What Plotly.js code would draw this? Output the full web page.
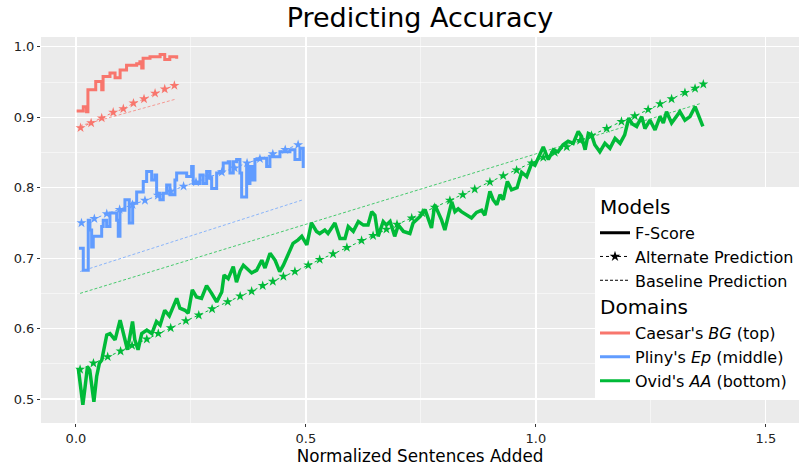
<!DOCTYPE html>
<html>
<head>
<meta charset="utf-8">
<script src="https://cdn.plot.ly/plotly-3.0.1.min.js"></script>
<style>html,body{margin:0;padding:0;background:#fff;}#chart{width:799px;height:470px;}</style>
</head>
<body>
<div id="chart"></div>
<script>
// ---- Caesar's BG (top) ----
const caesarFX = [0.0015,0.016,0.023,0.026,0.043,0.056,0.059,0.074,0.085,0.096,0.110,0.132,0.139,0.143,0.146,0.161,0.183,0.193,0.204,0.219];
const caesarFY = [0.909,0.915,0.908,0.939,0.951,0.939,0.958,0.963,0.956,0.967,0.974,0.976,0.979,0.970,0.984,0.986,0.989,0.982,0.986,0.983];
const caesarAX = [0.010,0.033,0.056,0.081,0.103,0.125,0.148,0.172,0.193,0.214];
const caesarAY = [0.885,0.892,0.899,0.907,0.912,0.920,0.926,0.934,0.940,0.945];
const caesarBX = [0.009,0.218];
const caesarBY = [0.888,0.926];

// ---- Pliny's Ep (middle) ----
const plinyFX = [0.0065,0.0159,0.0267,0.0304,0.0341,0.0376,0.0559,0.0593,0.0667,0.0739,0.0885,0.092,0.0957,0.1065,0.1159,0.1233,0.132,0.1463,0.1537,0.1646,0.1717,0.1754,0.1826,0.1898,0.1972,0.2043,0.2152,0.2189,0.2407,0.2515,0.255,0.2696,0.2767,0.2841,0.2913,0.295,0.3059,0.313,0.3202,0.3311,0.3348,0.342,0.3493,0.3565,0.3602,0.3711,0.3746,0.3783,0.3841,0.3891,0.4,0.4146,0.4217,0.4435,0.4652,0.4761,0.487,0.4941];
const plinyFY = [0.714,0.683,0.754,0.740,0.716,0.731,0.745,0.754,0.745,0.764,0.754,0.731,0.768,0.783,0.750,0.778,0.794,0.809,0.823,0.811,0.818,0.792,0.783,0.792,0.804,0.790,0.811,0.821,0.816,0.830,0.806,0.818,0.806,0.823,0.814,0.799,0.821,0.823,0.835,0.837,0.821,0.837,0.840,0.821,0.787,0.830,0.806,0.830,0.811,0.840,0.842,0.830,0.844,0.851,0.854,0.840,0.856,0.828];
const plinyAX = [0.012,0.040,0.067,0.095,0.123,0.150,0.178,0.206,0.234,0.261,0.289,0.317,0.345,0.372,0.400,0.428,0.455,0.483];
const plinyAY = [0.750,0.756,0.763,0.769,0.776,0.782,0.789,0.795,0.802,0.808,0.815,0.822,0.828,0.835,0.841,0.848,0.854,0.861];
const plinyBX = [0.009,0.494];
const plinyBY = [0.681,0.783];

// ---- Ovid's AA (bottom) ----
const ovidFX = [0.005,0.010,0.015,0.020,0.025,0.030,0.039,0.045,0.051,0.056,0.067,0.074,0.085,0.096,0.104,0.112,0.123,0.128,0.135,0.143,0.154,0.165,0.175,0.183,0.193,0.203,0.219,0.226,0.237,0.244,0.253,0.262,0.273,0.284,0.295,0.306,0.317,0.322,0.331,0.342,0.349,0.357,0.364,0.382,0.393,0.404,0.411,0.422,0.433,0.443,0.451,0.462,0.472,0.483,0.491,0.502,0.512,0.523,0.530,0.541,0.548,0.563,0.574,0.585,0.592,0.603,0.614,0.625,0.635,0.643,0.650,0.657,0.668,0.675,0.683,0.693,0.701,0.712,0.726,0.733,0.748,0.759,0.766,0.773,0.780,0.795,0.802,0.817,0.824,0.831,0.838,0.849,0.860,0.871,0.882,0.889,0.900,0.907,0.915,0.922,0.929,0.938,0.947,0.959,0.969,0.980,0.991,0.998,1.005,1.016,1.027,1.038,1.048,1.059,1.070,1.081,1.092,1.099,1.107,1.114,1.121,1.128,1.139,1.150,1.161,1.172,1.183,1.193,1.202,1.209,1.219,1.230,1.237,1.248,1.259,1.270,1.277,1.284,1.295,1.306,1.313,1.324,1.335,1.346,1.357,1.363];
const ovidFY = [0.544,0.513,0.492,0.518,0.546,0.541,0.496,0.532,0.551,0.555,0.591,0.593,0.584,0.612,0.589,0.570,0.610,0.584,0.570,0.593,0.598,0.593,0.610,0.605,0.626,0.618,0.643,0.629,0.626,0.622,0.655,0.645,0.643,0.661,0.650,0.638,0.652,0.676,0.671,0.688,0.666,0.682,0.690,0.679,0.683,0.697,0.686,0.707,0.697,0.681,0.690,0.707,0.721,0.726,0.731,0.719,0.750,0.738,0.735,0.740,0.735,0.750,0.728,0.728,0.745,0.738,0.752,0.747,0.747,0.766,0.761,0.731,0.752,0.747,0.752,0.731,0.747,0.738,0.735,0.750,0.759,0.769,0.754,0.743,0.776,0.754,0.740,0.780,0.766,0.770,0.766,0.761,0.757,0.765,0.768,0.761,0.795,0.783,0.776,0.790,0.783,0.809,0.797,0.800,0.822,0.816,0.835,0.832,0.842,0.858,0.840,0.854,0.851,0.861,0.866,0.863,0.880,0.873,0.854,0.877,0.875,0.861,0.851,0.863,0.856,0.870,0.863,0.875,0.899,0.891,0.887,0.901,0.884,0.896,0.882,0.901,0.892,0.908,0.892,0.901,0.908,0.896,0.901,0.915,0.896,0.887];
const ovidAX = [0.009,0.038,0.069,0.097,0.122,0.154,0.179,0.206,0.239,0.267,0.296,0.330,0.357,0.382,0.406,0.428,0.451,0.476,0.505,0.530,0.559,0.589,0.621,0.646,0.675,0.698,0.730,0.753,0.780,0.813,0.841,0.867,0.900,0.929,0.958,0.991,1.016,1.041,1.067,1.096,1.121,1.154,1.186,1.215,1.244,1.270,1.295,1.324,1.346,1.364];
const ovidAY = [0.542,0.551,0.560,0.568,0.576,0.585,0.593,0.601,0.611,0.619,0.628,0.638,0.646,0.653,0.661,0.667,0.674,0.681,0.690,0.698,0.706,0.715,0.725,0.732,0.741,0.748,0.757,0.764,0.772,0.782,0.790,0.798,0.808,0.817,0.825,0.835,0.843,0.850,0.858,0.867,0.874,0.884,0.894,0.902,0.911,0.919,0.926,0.935,0.941,0.947];
const ovidBX = [0.009,1.360];
const ovidBY = [0.650,0.920];

// ---- labels ----
const domainNames = ["Caesar's <i>BG</i> (top)", "Pliny's <i>Ep</i> (middle)", "Ovid's <i>AA</i> (bottom)"];
const domainColors = ['#F8766D', '#619CFF', '#00BA38'];
const modelNames = ['F-Score', 'Alternate Prediction', 'Baseline Prediction'];
const xTickVals = [0, 0.5, 1.0, 1.5];
const xTickText = ['0.0', '0.5', '1.0', '1.5'];
const yTickVals = [0.5, 0.6, 0.7, 0.8, 0.9, 1.0];
const yTickText = ['0.5', '0.6', '0.7', '0.8', '0.9', '1.0'];

const series = [
  {F:[caesarFX,caesarFY], A:[caesarAX,caesarAY], B:[caesarBX,caesarBY], shape:'hv', w:3},
  {F:[plinyFX,plinyFY], A:[plinyAX,plinyAY], B:[plinyBX,plinyBY], shape:'hv', w:3},
  {F:[ovidFX,ovidFY], A:[ovidAX,ovidAY], B:[ovidBX,ovidBY], shape:'linear', w:3.5}
];

const traces = [];
series.forEach((s, i) => {
  const c = domainColors[i];
  traces.push({x:s.B[0], y:s.B[1], mode:'lines', line:{color:c, width:1, dash:'3px,2px'}, opacity:0.7, showlegend:false, hoverinfo:'skip'});
  traces.push({x:s.A[0], y:s.A[1], mode:'lines+markers', line:{color:c, width:1, dash:'dot'}, marker:{symbol:'star', size:7.5, color:c}, showlegend:false, hoverinfo:'skip'});
  traces.push({x:s.F[0], y:s.F[1], mode:'lines', line:{color:c, width:s.w, shape:s.shape}, showlegend:false, hoverinfo:'skip'});
});

// legend entries
const legFont = {family:'DejaVu Sans', size:20, color:'#000'};
traces.push({x:[null], y:[null], mode:'lines', name:modelNames[0], line:{color:'#000', width:3}, legendgroup:'models', legendgrouptitle:{text:'Models', font:legFont}});
traces.push({x:[null], y:[null], mode:'lines+markers', name:modelNames[1], line:{color:'#000', width:1, dash:'dot'}, marker:{symbol:'star', size:8, color:'#000'}, legendgroup:'models'});
traces.push({x:[null], y:[null], mode:'lines', name:modelNames[2], line:{color:'#000', width:1, dash:'3px,2px'}, legendgroup:'models'});
domainNames.forEach((n, i) => {
  const t = {x:[null], y:[null], mode:'lines', name:n, line:{color:domainColors[i], width:3}, legendgroup:'domains'};
  if (i === 0) t.legendgrouptitle = {text:'Domains', font:legFont};
  traces.push(t);
});

const layout = {
  width:799, height:470,
  margin:{l:41, r:0, t:37, b:47},
  paper_bgcolor:'#fff', plot_bgcolor:'#EBEBEB',
  font:{family:'DejaVu Sans', color:'#000'},
  title:{text:'Predicting Accuracy', font:{family:'DejaVu Sans', size:27, color:'#000'}, x:0.5, xref:'paper', xanchor:'center', y:0.962, yref:'container', yanchor:'middle'},
  xaxis:{range:[-0.076, 1.572], tickvals:xTickVals, ticktext:xTickText, showgrid:true, gridcolor:'#fff', gridwidth:1.2, zeroline:false,
    minor:{dtick:0.25, tick0:0, showgrid:true, gridcolor:'#fff', gridwidth:0.5, ticks:''},
    ticks:'outside', ticklen:3, tickcolor:'#333', tickfont:{size:13, color:'#222'},
    title:{text:'Normalized Sentences Added', font:{size:16.8, color:'#000'}, standoff:4}},
  yaxis:{range:[0.466, 1.014], tickvals:yTickVals, ticktext:yTickText, showgrid:true, gridcolor:'#fff', gridwidth:1.2, zeroline:false,
    minor:{dtick:0.05, tick0:0, showgrid:true, gridcolor:'#fff', gridwidth:0.5, ticks:''},
    ticks:'outside', ticklen:3, tickcolor:'#333', tickfont:{size:13, color:'#222'}},
  legend:{x:1, xanchor:'right', y:0.612, yanchor:'top', bgcolor:'#fff', borderwidth:0, traceorder:'grouped', tracegroupgap:0,
    font:{family:'DejaVu Sans', size:16, color:'#000'}, itemwidth:30},
  showlegend:true
};

Plotly.newPlot('chart', traces, layout, {displayModeBar:false, staticPlot:true});
</script>
</body>
</html>
